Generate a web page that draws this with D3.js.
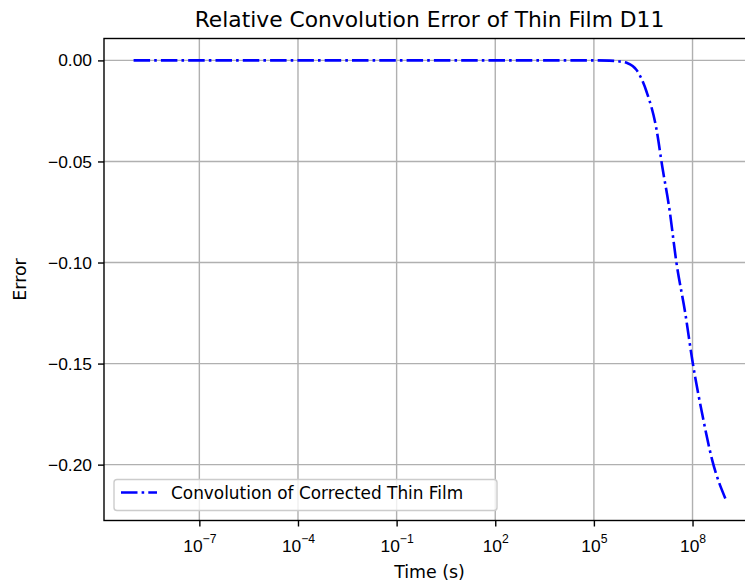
<!DOCTYPE html>
<html>
<head>
<meta charset="utf-8">
<script src="https://cdn.jsdelivr.net/npm/d3@7"></script>
<style>
    body { margin: 0; background: #fff; }
    svg { display: block; font-family: "DejaVu Sans", sans-serif; }
</style>
</head>
<body>
<svg id="chart" width="745" height="587"></svg>
<script>
// time in seconds
const times = [1e-9, 1e-7, 1e-4, 1e-1, 1e2, 1e4, 1e5, 3e5, 6e5, 1e6, 2e6, 4e6, 8e6,
    1.2e7, 2e7, 3.2e7, 6e7, 1e8, 2e8, 4e8, 1e9]
const errors = [0, 0, 0, 0, 0, 0, 0, -0.0001, -0.0005, -0.0012, -0.0048, -0.0155, -0.034,
    -0.0525, -0.074, -0.0995, -0.125, -0.149, -0.1755, -0.198, -0.2168]
const xTicks = [1e-7, 1e-4, 1e-1, 1e2, 1e5, 1e8]
const yTicks = [0, -0.05, -0.10, -0.15, -0.20]
const seriesName = "Convolution of Corrected Thin Film"

const plotLeft = 104, plotRight = 755, plotTop = 38.5, plotBottom = 520.5
const fontSize = 17.4

const svg = d3.select("#chart")

// matplotlib style 5% margins
const lx = d3.extent(times, t => Math.log10(t))
const padX = (lx[1] - lx[0]) * 0.05
const x = d3.scaleLog()
    .domain([Math.pow(10, lx[0] - padX), Math.pow(10, lx[1] + padX)])
    .range([plotLeft, plotRight])

const ey = d3.extent(errors)
const padY = (ey[1] - ey[0]) * 0.05
const y = d3.scaleLinear()
    .domain([ey[0] - padY, ey[1] + padY])
    .range([plotBottom, plotTop])

// grid
svg.append("g")
    .selectAll("line")
    .data(xTicks)
    .enter()
    .append("line")
    .attr("x1", d => x(d)).attr("x2", d => x(d))
    .attr("y1", plotTop).attr("y2", plotBottom)
    .attr("stroke", "#b0b0b0").attr("stroke-width", 1.4)
svg.append("g")
    .selectAll("line")
    .data(yTicks)
    .enter()
    .append("line")
    .attr("x1", plotLeft).attr("x2", plotRight)
    .attr("y1", d => y(d)).attr("y2", d => y(d))
    .attr("stroke", "#b0b0b0").attr("stroke-width", 1.4)

// line
const line = d3.line()
    .x((d, i) => x(times[i]))
    .y(d => y(d))
    .curve(d3.curveMonotoneX)
svg.append("path")
    .datum(errors)
    .attr("d", line)
    .attr("fill", "none")
    .attr("stroke", "#0000ff")
    .attr("stroke-width", 2.6)
    .attr("stroke-dasharray", "16.5,4.1,2.6,4.1")

// axes
const xAxis = svg.append("g")
    .attr("transform", `translate(0,${plotBottom})`)
    .call(d3.axisBottom(x).tickValues(xTicks).tickSize(6).tickPadding(6).tickFormat(() => ""))
xAxis.selectAll(".tick text")
    .each(function(d) {
        const t = d3.select(this)
            .attr("font-size", fontSize)
            .attr("fill", "#000")
            .attr("dy", "1.1em")
        t.append("tspan").text("10")
        t.append("tspan")
            .attr("font-size", fontSize * 0.7)
            .attr("dy", "-0.75em")
            .text(d3.format("")(Math.round(Math.log10(d))))
    })
const yAxis = svg.append("g")
    .attr("transform", `translate(${plotLeft},0)`)
    .call(d3.axisLeft(y).tickValues(yTicks).tickSize(6).tickPadding(6).tickFormat(d3.format(".2f")))
yAxis.selectAll(".tick text").attr("font-size", fontSize).attr("fill", "#000")

svg.selectAll(".domain").remove()
svg.selectAll(".tick line").attr("stroke", "#000").attr("stroke-width", 1.4)

// spines
svg.append("rect")
    .attr("x", plotLeft).attr("y", plotTop)
    .attr("width", plotRight - plotLeft).attr("height", plotBottom - plotTop)
    .attr("fill", "none").attr("stroke", "#000").attr("stroke-width", 1.4)

// labels
svg.append("text")
    .attr("x", (plotLeft + plotRight) / 2).attr("y", 27)
    .attr("text-anchor", "middle")
    .attr("font-size", 21.8)
    .text("Relative Convolution Error of Thin Film D11")
svg.append("text")
    .attr("x", (plotLeft + plotRight) / 2).attr("y", 578)
    .attr("text-anchor", "middle")
    .attr("font-size", fontSize)
    .text("Time (s)")
svg.append("text")
    .attr("transform", `translate(26,${(plotTop + plotBottom) / 2}) rotate(-90)`)
    .attr("text-anchor", "middle")
    .attr("font-size", fontSize)
    .text("Error")

// legend
const legend = svg.append("g")
legend.append("rect")
    .attr("x", 114).attr("y", 479.5)
    .attr("width", 383).attr("height", 31).attr("rx", 3)
    .attr("fill", "#fff").attr("fill-opacity", 0.8)
    .attr("stroke", "#cccccc").attr("stroke-width", 1.4)
legend.append("line")
    .attr("x1", 121).attr("x2", 157)
    .attr("y1", 492.5).attr("y2", 492.5)
    .attr("stroke", "#0000ff").attr("stroke-width", 2.6)
    .attr("stroke-dasharray", "16.5,4.1,2.6,4.1")
legend.append("text")
    .attr("x", 171).attr("y", 499)
    .attr("font-size", 16.9)
    .text(seriesName)
</script>
</body>
</html>
